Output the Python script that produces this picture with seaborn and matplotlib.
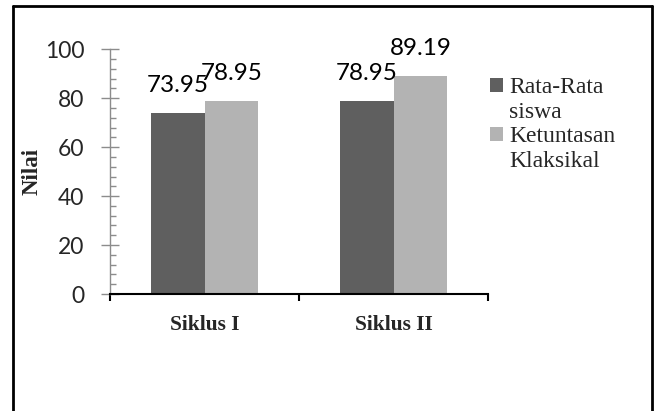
import matplotlib
matplotlib.use("Agg")
import matplotlib.pyplot as plt
from matplotlib.lines import Line2D
from matplotlib.patches import Patch
from matplotlib.ticker import MultipleLocator
import seaborn as sns
import pandas as pd

# Scores per cycle
categories = ["Siklus I", "Siklus II"]
rata_rata_siswa = [73.95, 78.95]
ketuntasan_klaksikal = [78.95, 89.19]
series_names = ["Rata-Rata siswa", "Ketuntasan Klaksikal"]
y_ticks = [0, 20, 40, 60, 80, 100]

colors = ["#5f5f5f", "#b3b3b3"]

df = pd.DataFrame({
    "Siklus": categories * 2,
    "Seri": [series_names[0]] * len(categories) + [series_names[1]] * len(categories),
    "Nilai": rata_rata_siswa + ketuntasan_klaksikal,
})

sns.set_theme(style="white")
plt.rcParams["font.family"] = ["Lato", "DejaVu Sans"]

W, H = 654, 411
fig = plt.figure(figsize=(W / 100, H / 100), dpi=100)
ax = fig.add_axes([110 / W, 1 - 294 / H, (488 - 110) / W, (294 - 49.3) / H])

sns.barplot(data=df, x="Siklus", y="Nilai", hue="Seri", order=categories,
            hue_order=series_names, palette=colors, saturation=1,
            width=0.571, errorbar=None, legend=False, ax=ax, linewidth=0)

for cont in ax.containers:
    ax.bar_label(cont, fmt="%.2f", padding=12, fontsize=17.5, family="Lato",
                 color="black")

ax.set_xlim(-0.5, 1.5)
ax.set_ylim(0, 100)
ax.set_yticks(y_ticks)
ax.set_yticklabels([str(t) for t in y_ticks], fontsize=16.5, family="Lato")
ax.yaxis.set_minor_locator(MultipleLocator(4))
ax.tick_params(axis="y", which="major", direction="inout", length=13,
               width=1, color="#8c8c8c", pad=12, left=True)
ax.tick_params(axis="y", which="minor", direction="in", length=4.5,
               width=1, color="#8c8c8c", left=True)

ax.set_xticks([0, 1])
ax.set_xticklabels(categories, fontsize=15.5, family="Liberation Serif",
                   fontweight="bold")
ax.set_xticks([-0.5, 0.5, 1.5], minor=True)
ax.tick_params(axis="x", which="major", length=0, pad=15)
ax.tick_params(axis="x", which="minor", direction="out", length=5,
               width=1.5, color="black", bottom=True)

ax.set_xlabel("")
ax.set_ylabel("")
fig.text(32.5 / W, 1 - 171 / H, "Nilai", rotation=90, ha="center",
         va="center", fontsize=16.5, family="Liberation Serif",
         fontweight="bold")

for side in ("top", "right"):
    ax.spines[side].set_visible(False)
ax.spines["left"].set_color("#8c8c8c")
ax.spines["left"].set_linewidth(1)
ax.spines["bottom"].set_color("black")
ax.spines["bottom"].set_linewidth(1.5)

# Legend: one row per text line, square markers on the first line of each entry
blank = Patch(facecolor="none", edgecolor="none")
handles = [Patch(facecolor=colors[0], edgecolor="none"), blank,
           Patch(facecolor=colors[1], edgecolor="none"), blank]
labels = ["Rata-Rata", "siswa", "Ketuntasan", "Klaksikal"]
fig.legend(handles, labels, loc="upper left",
           bbox_to_anchor=(490 / W, 1 - 77 / H), frameon=False,
           prop={"family": "Liberation Serif", "size": 17},
           handlelength=0.55, handleheight=0.55, handletextpad=0.25,
           labelspacing=0.15, borderpad=0, borderaxespad=0)

# Outer frame (open at the bottom)
lw = 2
xl, xr, yt = 12.5 / W, 652 / W, 1 - 6 / H
fig.add_artist(Line2D([xl, xl], [0, yt], transform=fig.transFigure,
                      color="black", lw=lw))
fig.add_artist(Line2D([xl, xr], [yt, yt], transform=fig.transFigure,
                      color="black", lw=lw))
fig.add_artist(Line2D([xr, xr], [yt, 0], transform=fig.transFigure,
                      color="black", lw=lw))

fig.savefig("out.png", dpi=100, facecolor="white")
